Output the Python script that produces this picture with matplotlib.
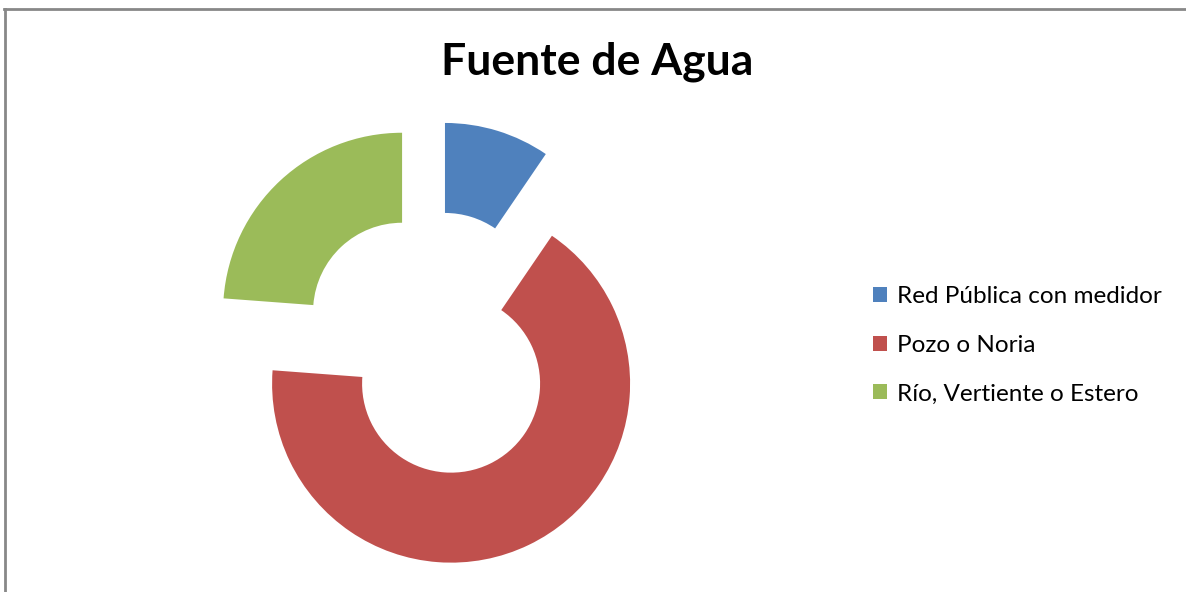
#!/usr/bin/env python3
# Donut chart: Fuente de Agua

import matplotlib
matplotlib.use('Agg')
from matplotlib import pyplot as plt
from matplotlib.patches import Patch
from matplotlib.lines import Line2D

labels = ['Red Pública con medidor', 'Pozo o Noria', 'Río, Vertiente o Estero']
values = [4, 28, 10]
colors = ['#4F81BD', '#C0504D', '#9BBB59']

W, H = 1186, 592


def main():
    fig = plt.figure(figsize=(W / 100, H / 100), dpi=100)
    plt.rcParams['font.family'] = ['Lato', 'DejaVu Sans']

    ax = fig.add_axes([0, 0, 1, 1])

    # pie centre and radius in pixels, explode offset in pixels too
    cx, cy, r = 432, H - 344, 179
    ax.pie(values, colors=colors, startangle=90, counterclock=False,
           center=(cx, cy), radius=r, explode=[44] * 3,
           wedgeprops=dict(width=90, linewidth=0), frame=True)
    ax.set_xlim(0, W)
    ax.set_ylim(0, H)
    ax.axis('off')

    fig.text(597 / W, 1 - 62 / H, 'Fuente de Agua', ha='center', va='center',
             fontsize=32, fontweight='bold')

    handles = [Patch(facecolor=c, edgecolor='none') for c in colors]
    fig.legend(handles, labels, loc='upper left',
               bbox_to_anchor=(873 / W, 1 - 286 / H), frameon=False,
               fontsize=17.5, borderpad=0, borderaxespad=0,
               handlelength=0.58, handleheight=0.58, handletextpad=0.4,
               labelspacing=1.14)

    # grey frame on top and left
    fig.add_artist(Line2D([5 / W, 5 / W], [0, 1 - 9 / H], color='#888888',
                          lw=2, transform=fig.transFigure))
    fig.add_artist(Line2D([4 / W, 1], [1 - 9 / H, 1 - 9 / H], color='#888888',
                          lw=2, transform=fig.transFigure))

    fig.savefig('out.png', dpi=100)


if __name__ == "__main__":
    main()
